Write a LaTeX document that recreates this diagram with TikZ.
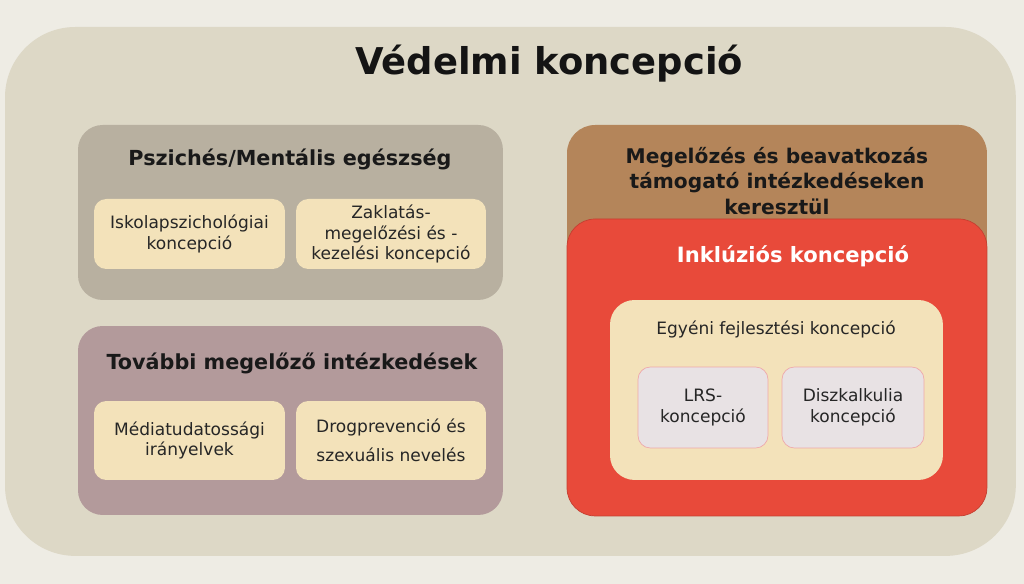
\documentclass[tikz,border=0pt]{standalone}
\usepackage{fontspec}
\setmainfont{DejaVu Sans}
\usepackage{tikz}
\usetikzlibrary{shapes,positioning}

\definecolor{hatter}{HTML}{EEECE4}
\definecolor{kulso}{HTML}{DDD8C6}
\definecolor{szurke}{HTML}{B8B0A0}
\definecolor{mályva}{HTML}{B39A9B}
\definecolor{barna}{HTML}{B4855A}
\definecolor{piros}{HTML}{E84A3A}
\definecolor{krem}{HTML}{F3E2BA}
\definecolor{lila}{HTML}{E8E2E4}

\begin{document}
\begin{tikzpicture}[x=0.02cm,y=-0.02cm,
      doboz/.style={anchor=north west, inner sep=0pt, outer sep=0pt, rounded corners=14pt},
      belso/.style={doboz, fill=krem, rounded corners=7pt, align=center,
        font=\fontsize{9.7}{11.8}\selectfont, text=black!85},
      fejlec/.style={font=\bfseries\fontsize{11.8}{14}\selectfont, text=black!90}
    ]
    \fill[hatter] (0,0) rectangle (1024,584);
    \useasboundingbox (0,0) rectangle (1024,584);

    % kulso keret
    \node[doboz, fill=kulso, rounded corners=40pt, minimum width=20.22cm, minimum height=10.58cm]
      (vedelmi) at (5,27) {};
    \node[anchor=base, font=\bfseries\fontsize{21}{25}\selectfont, text=black!92]
      (cim) at (549,75) {Védelmi koncepció};

    % bal oldal
    \node[doboz, fill=szurke, minimum width=8.5cm, minimum height=3.5cm] (psziches) at (78,125) {};
    \node[fejlec, anchor=base] (pszichesCim) at (290,166) {Pszichés/Mentális egészség};
    \node[belso, minimum width=3.82cm, minimum height=1.4cm] (iskola) at (94,199)
      {Iskolapszichológiai\\koncepció};
    \node[belso, minimum width=3.8cm, minimum height=1.4cm] (zaklatas) at (296,199)
      {Zaklatás-\\megelőzési és -\\kezelési koncepció};

    \node[doboz, fill=mályva, minimum width=8.5cm, minimum height=3.78cm] (tovabbi) at (78,326) {};
    \node[fejlec, anchor=base] (tovabbiCim) at (292,369) {További megelőző intézkedések};
    \node[belso, minimum width=3.82cm, minimum height=1.58cm] (media) at (94,401)
      {Médiatudatossági\\irányelvek};
    \node[belso, minimum width=3.8cm, minimum height=1.58cm] (drog) at (296,401)
      {Drogprevenció és\\[5pt]szexuális nevelés};

    % jobb oldal
    \node[doboz, fill=barna, rounded corners=16pt, minimum width=8.4cm, minimum height=7.8cm]
      (megelozes) at (567,125) {};
    \node[fejlec, anchor=north, align=center, font=\bfseries\fontsize{11.5}{14.5}\selectfont]
      (megelozesCim) at (777,141) {Megelőzés és beavatkozás\\támogató intézkedéseken\\keresztül};
    \node[doboz, fill=piros, draw=piros!85!black, rounded corners=16pt,
      minimum width=8.4cm, minimum height=5.94cm] (inkluzio) at (567,219) {};
    \node[fejlec, text=white, font=\bfseries\fontsize{12}{14}\selectfont, anchor=base]
      (inkluzioCim) at (793,262) {Inklúziós koncepció};
    \node[doboz, fill=krem, rounded corners=14pt, minimum width=6.66cm, minimum height=3.6cm]
      (egyeni) at (610,300) {};
    \node[anchor=base, font=\fontsize{9.7}{11.8}\selectfont, text=black!85]
      (egyeniCim) at (776,334) {Egyéni fejlesztési koncepció};
    \node[belso, fill=lila, draw=red!25!lila, minimum width=2.6cm, minimum height=1.62cm]
      (lrs) at (638,367) {LRS-\\koncepció};
    \node[belso, fill=lila, draw=red!25!lila, minimum width=2.84cm, minimum height=1.62cm]
      (diszkalkulia) at (782,367) {Diszkalkulia\\koncepció};
  \end{tikzpicture}
\end{document}
